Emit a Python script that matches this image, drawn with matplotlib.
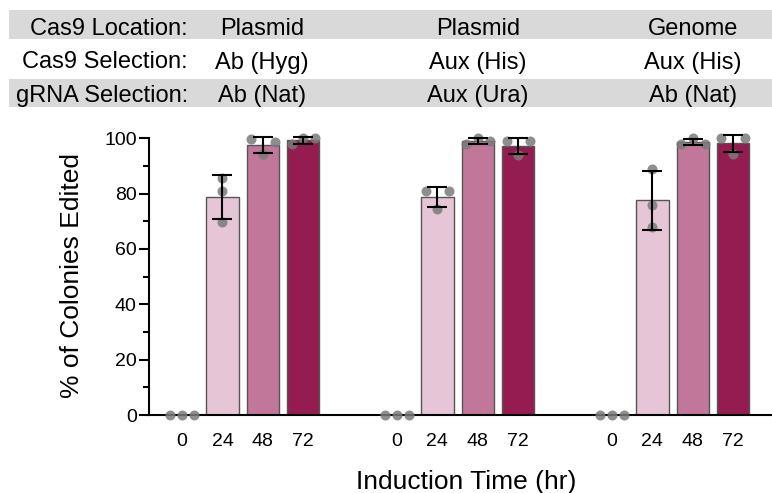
import numpy as np
import matplotlib
matplotlib.use('Agg')
import matplotlib.pyplot as plt
from matplotlib.patches import Rectangle

plt.rcParams['font.family'] = ['Liberation Sans', 'DejaVu Sans']

W, H = 772, 493

# header table
row_titles = ['Cas9 Location:', 'Cas9 Selection:', 'gRNA Selection:']
cas9_location = ['Plasmid', 'Plasmid', 'Genome']
cas9_selection = ['Ab (Hyg)', 'Aux (His)', 'Aux (His)']
grna_selection = ['Ab (Nat)', 'Aux (Ura)', 'Ab (Nat)']

# induction times and replicate values (% edited), left to right as plotted
times = ['0', '24', '48', '72']
plasmid_hyg = [[0, 0, 0], [85.5, 80.9, 69.8], [99.9, 94.5, 98.7], [97.8, 100, 100]]
plasmid_his = [[0, 0, 0], [81, 74.6, 81], [97.8, 100, 99], [99, 94, 99]]
genome_his = [[0, 0, 0], [89, 75.8, 68], [97.8, 100, 98.1], [100, 94.5, 100]]
groups = [plasmid_hyg, plasmid_his, genome_his]

bar_colors = ['white', '#e6c6d6', '#c07799', '#951c50']


def swarm_offsets(vals, tol=3.8):
    # spread points that would overlap sideways, like a small beeswarm
    vals = np.asarray(vals, float)
    order = np.argsort(vals, kind='stable')
    clusters = [[order[0]]]
    for a, b in zip(order[:-1], order[1:]):
        if vals[b] - vals[a] < tol:
            clusters[-1].append(b)
        else:
            clusters.append([b])
    offs = np.zeros(len(vals))
    for c in clusters:
        c = sorted(c)
        n = len(c)
        if n % 2:
            steps = list(np.arange(n) - n // 2)
        else:
            steps = [s for s in range(-(n // 2), n // 2 + 1) if s != 0]
        for idx, s in zip(c, steps):
            offs[idx] = s
    return offs


fig = plt.figure(figsize=(W / 100, H / 100), dpi=100)


def fx(px):
    return px / W


def fy(py):
    return 1 - py / H


# table bands and text
for top, bot in [(10, 39.3), (79, 107.3)]:
    fig.add_artist(Rectangle((fx(9), fy(bot)), fx(W) - fx(9), fy(top) - fy(bot),
                             transform=fig.transFigure, color='#d9d9d9', lw=0, zorder=0))

row_base = [35, 68.5, 102]
col_x = [262, 478, 693]
for r, (title, vals) in enumerate(zip(row_titles, [cas9_location, cas9_selection, grna_selection])):
    fig.text(fx(188), fy(row_base[r]), title, ha='right', va='baseline', fontsize=17)
    for c, v in enumerate(vals):
        fig.text(fx(col_x[c]), fy(row_base[r]), v, ha='center', va='baseline', fontsize=17)

ax = fig.add_axes([fx(148.5), fy(415), fx(W) - fx(148.5), fy(138.3) - fy(415)])

group_gap = 5.32
step = 0.29
ticks, ticklabels = [], []
for g, reps in enumerate(groups):
    for i, vals in enumerate(reps):
        x = g * group_gap + i
        mean = np.mean(vals)
        sd = np.std(vals, ddof=1)
        ax.bar(x, mean, width=0.8, color=bar_colors[i], edgecolor='#555555',
               linewidth=1.0, zorder=2)
        offs = swarm_offsets(vals)
        ax.scatter(x + offs * step, vals, s=52, color='#7a7a7a', alpha=0.85,
                   linewidths=0, zorder=3, clip_on=False)
        if sd > 0:
            ax.errorbar(x, mean, yerr=sd, fmt='none', ecolor='black', elinewidth=1.5,
                        capsize=7, capthick=1.5, zorder=4, clip_on=False)
        ticks.append(x)
        ticklabels.append(times[i])

ax.set_xlim(-0.83, 14.6)
ax.set_ylim(0, 100)
ax.set_xticks(ticks)
ax.set_xticklabels(ticklabels)
ax.set_yticks(np.arange(0, 101, 20))
ax.set_yticks(np.arange(10, 100, 20), minor=True)

ax.spines['top'].set_visible(False)
ax.spines['right'].set_visible(False)
ax.spines['left'].set_linewidth(1.5)
ax.spines['bottom'].set_linewidth(1.5)
ax.tick_params(axis='y', which='major', length=7, width=1.5, labelsize=14, pad=1.5)
ax.tick_params(axis='y', which='minor', length=4, width=1.5)
ax.tick_params(axis='x', length=0, labelsize=14, pad=13)

ax.set_ylabel('% of Colonies Edited', fontsize=19, va='center', ha='center')
ax.yaxis.set_label_coords((72 - 148.5) / (W - 148.5), (415 - 275) / (415 - 138.3))
ax.set_xlabel('Induction Time (hr)', fontsize=19, va='baseline')
ax.xaxis.set_label_coords((466 - 148.5) / (W - 148.5), (415 - 489) / (415 - 138.3))

fig.savefig('out.png', dpi=100)
